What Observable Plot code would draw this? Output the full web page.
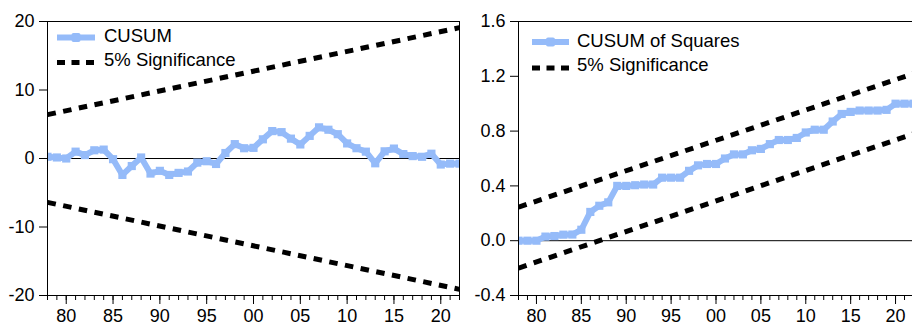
<!DOCTYPE html>
<html><head><meta charset="utf-8">
<script src="https://cdn.jsdelivr.net/npm/d3@7"></script>
<script src="https://cdn.jsdelivr.net/npm/@observablehq/plot@0.6"></script>
<style>
html,body{margin:0;padding:0;background:#fff;}
#wrap{position:relative;width:912px;height:329px;overflow:hidden;background:#fff;}
.panel{position:absolute;top:0;}
#legend{position:absolute;top:0;left:0;pointer-events:none;}
</style></head><body><div id="wrap"></div>
<script>
const FONT = '"Liberation Sans", Arial, sans-serif';
const BLUE = "#95bbf9";

// ---- data ----
const years = [1978,1979,1980,1981,1982,1983,1984,1985,1986,1987,1988,1989,1990,1991,1992,1993,1994,1995,1996,1997,1998,1999,2000,2001,2002,2003,2004,2005,2006,2007,2008,2009,2010,2011,2012,2013,2014,2015,2016,2017,2018,2019,2020,2021,2022];
const cusum = [0.25,0.15,0.0,1.0,0.5,1.2,1.3,-0.1,-2.4,-1.1,0.15,-2.2,-1.8,-2.4,-2.1,-1.9,-0.6,-0.4,-0.8,0.8,2.1,1.5,1.55,2.8,4.0,3.85,2.9,2.05,3.3,4.55,4.2,3.55,2.2,1.5,1.0,-0.7,1.05,1.45,0.65,0.35,0.25,0.7,-0.88,-0.75,-0.75];
const cusumSq = [0,0,0,0.03,0.034,0.044,0.045,0.08,0.21,0.255,0.28,0.40,0.40,0.405,0.41,0.41,0.46,0.46,0.46,0.51,0.55,0.56,0.56,0.60,0.63,0.63,0.66,0.67,0.705,0.735,0.735,0.75,0.79,0.81,0.81,0.87,0.925,0.94,0.95,0.95,0.95,0.955,1.0,1.0,1.0];
const boundYears = [1978, 2022];
const cusumUpper = [6.4, 19.1];
const cusumLower = [-6.4, -19.1];
const sqUpper = [0.245, 1.22];
const sqLower = [-0.2, 0.78];
const majorYears = [1980,1985,1990,1995,2000,2005,2010,2015,2020];
const cusumTicks = [-20,-10,0,10,20];
const sqTicks = [-0.4,0.0,0.4,0.8,1.2,1.6];
const leftLegend = ["CUSUM", "5% Significance"];
const rightLegend = ["CUSUM of Squares", "5% Significance"];

const toRows = (xs, ys) => xs.map((x, i) => ({x, y: ys[i]}));
const yearFmt = d => String(d % 100).padStart(2, "0");

function panel({series, upper, lower, yDomain, yTicks, yFmt, width, marginLeft}) {
  const pts = toRows(years, series);
  const bounds = [toRows(boundYears, upper), toRows(boundYears, lower)];
  return Plot.plot({
    width, height: 329,
    marginLeft, marginRight: 1, marginTop: 21, marginBottom: 34,
    x: {domain: [1978, 2022]},
    y: {domain: yDomain},
    style: {fontFamily: FONT, fontSize: "18px", color: "#000", background: "transparent", overflow: "visible"},
    marks: [
      Plot.ruleY([0], {stroke: "#000", strokeWidth: 1}),
      ...bounds.map(b => Plot.line(b, {x: "x", y: "y", stroke: "#000", strokeWidth: 5, strokeDasharray: "8.5,7.5", strokeLinecap: "butt", clip: true})),
      Plot.line(pts, {x: "x", y: "y", stroke: BLUE, strokeWidth: 6, clip: true}),
      Plot.dot(pts, {x: "x", y: "y", symbol: "square", r: 4.6, fill: BLUE, clip: true}),
      Plot.frame({stroke: "#000", strokeWidth: 1}),
      Plot.axisY({ticks: yTicks, tickSize: 8, tickPadding: 5, tickFormat: yFmt, fontSize: 18, label: null}),
      Plot.axisX({ticks: years, tickSize: 5, tickFormat: () => "", label: null}),
      Plot.axisX({ticks: majorYears, tickSize: 9, tickPadding: 5, tickFormat: yearFmt, fontSize: 18, label: null})
    ]
  });
}

const wrap = document.getElementById("wrap");
const left = panel({series: cusum, upper: cusumUpper, lower: cusumLower, yDomain: [-20, 20], yTicks: cusumTicks, yFmt: d => String(d), width: 460, marginLeft: 47});
left.classList.add("panel"); left.style.left = "0px";
wrap.appendChild(left);
const right = panel({series: cusumSq, upper: sqUpper, lower: sqLower, yDomain: [-0.4, 1.6], yTicks: sqTicks, yFmt: d => d.toFixed(1), width: 442, marginLeft: 46});
right.classList.add("panel"); right.style.left = "472px";
wrap.appendChild(right);

// legends
const svg = d3.select(wrap).append("svg").attr("id", "legend").attr("width", 912).attr("height", 329)
  .style("font-family", FONT).style("font-size", "18.5px");
function legend(labels, x0, x1, tx, rows, baselines) {
  const g = svg.append("g");
  g.append("line").attr("x1", x0).attr("x2", x1).attr("y1", rows[0]).attr("y2", rows[0]).attr("stroke", BLUE).attr("stroke-width", 6);
  g.append("rect").attr("x", (x0 + x1) / 2 - 4.5).attr("y", rows[0] - 4.5).attr("width", 9).attr("height", 9).attr("rx", 2).attr("fill", BLUE);
  g.append("line").attr("x1", x0).attr("x2", x1).attr("y1", rows[1]).attr("y2", rows[1]).attr("stroke", "#000").attr("stroke-width", 5).attr("stroke-dasharray", "8,6.5");
  labels.forEach((t, i) => g.append("text").attr("x", tx).attr("y", baselines[i]).attr("fill", "#000").text(t));
}
legend(leftLegend, 57, 95, 104, [37.5, 62.5], [41.5, 66]);
legend(rightLegend, 532, 569, 577, [42, 68], [46.5, 71]);
</script></body></html>
